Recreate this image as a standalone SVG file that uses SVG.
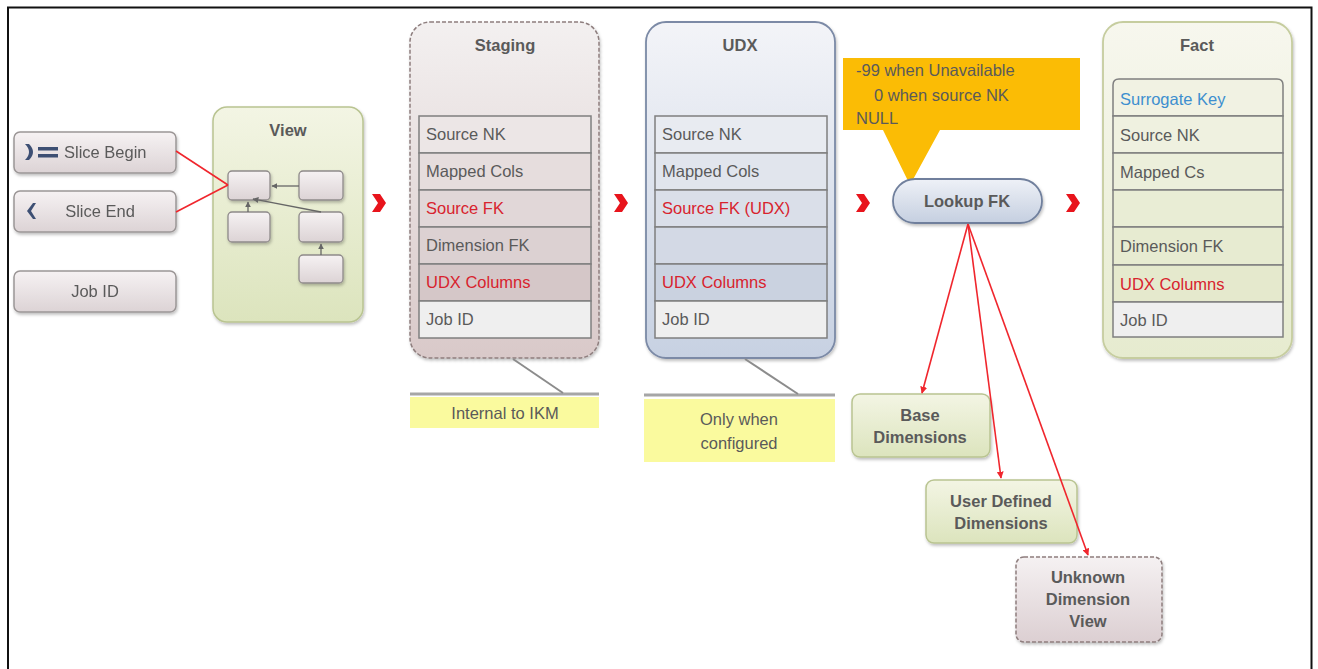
<svg xmlns="http://www.w3.org/2000/svg" width="1318" height="669" viewBox="0 0 1318 669">
<style>
text{font-family:"Liberation Sans",Arial,sans-serif;fill:#5a5a5a}
.t{font-size:16.5px}
.b{font-size:16.5px;font-weight:bold}
.red{fill:#d8232e}
.blue{fill:#3d8fcf}
.btn{fill:url(#gGrey);stroke:#9b9696;stroke-width:1.5}
.small{fill:url(#gGrey);stroke:#8f8a8a;stroke-width:1.3}
.row{stroke:#7f7f7f;stroke-width:1.5}
.chev{fill:#e8141c}
.rl{stroke:#f0262d;stroke-width:1.6;fill:none}
.gl{stroke:#666;stroke-width:1.3;fill:none}
.note{fill:#fafa9e}
.ul{stroke:#a6a6a6;stroke-width:3}
.cl{stroke:#8c8c8c;stroke-width:2}
</style>
<defs>
<linearGradient id="gGrey" x1="0" y1="0" x2="0" y2="1"><stop offset="0" stop-color="#f6f2f3"/><stop offset="1" stop-color="#dcd3d5"/></linearGradient>
<linearGradient id="gGreen" x1="0" y1="0" x2="0" y2="1"><stop offset="0" stop-color="#f3f5e4"/><stop offset="1" stop-color="#dce4bd"/></linearGradient>
<linearGradient id="gStage" x1="0" y1="0" x2="0" y2="1"><stop offset="0" stop-color="#f3f0f0"/><stop offset="1" stop-color="#d9c9c9"/></linearGradient>
<linearGradient id="gUdx" x1="0" y1="0" x2="0" y2="1"><stop offset="0" stop-color="#f3f4f8"/><stop offset="1" stop-color="#c7d1e2"/></linearGradient>
<linearGradient id="gFact" x1="0" y1="0" x2="0" y2="1"><stop offset="0" stop-color="#f7f7ee"/><stop offset="1" stop-color="#e6ebcf"/></linearGradient>
<linearGradient id="gPill" x1="0" y1="0" x2="0" y2="1"><stop offset="0" stop-color="#eef1f7"/><stop offset="1" stop-color="#c5cfe0"/></linearGradient>
<linearGradient id="gUnk" x1="0" y1="0" x2="0" y2="1"><stop offset="0" stop-color="#f5f1f2"/><stop offset="1" stop-color="#dccfd2"/></linearGradient>
<filter id="sh" x="-10%" y="-10%" width="130%" height="130%"><feDropShadow dx="1" dy="2" stdDeviation="1.5" flood-color="#000" flood-opacity="0.25"/></filter>
<marker id="ra" viewBox="0 0 10 10" refX="9" refY="5" markerWidth="7" markerHeight="7" orient="auto" markerUnits="userSpaceOnUse"><path d="M0,0 L10,5 L0,10 Z" fill="#f0262d"/></marker>
<marker id="ga" viewBox="0 0 10 10" refX="9" refY="5" markerWidth="6" markerHeight="6" orient="auto" markerUnits="userSpaceOnUse"><path d="M0,0 L10,5 L0,10 Z" fill="#666"/></marker>
</defs>
<rect width="1318" height="669" fill="#fff"/>
<path d="M8,669 V7.5 H1311.5 V669" fill="none" stroke="#111" stroke-width="2"/>

<g id="slice-begin" filter="url(#sh)">
<rect class="btn" x="14" y="132" width="162" height="41" rx="6"/>
<path d="M25,144 Q33,152 25,160 L29,160 Q37,152 29,144 Z" fill="#3d4f73"/>
<rect x="38" y="147" width="20" height="3.5" fill="#3d4f73"/>
<rect x="38" y="154" width="20" height="3.5" fill="#3d4f73"/>
<text class="t" x="64" y="158">Slice Begin</text>
</g>
<g id="slice-end" filter="url(#sh)">
<rect class="btn" x="14" y="191" width="162" height="41" rx="6"/>
<path d="M33,203 L27,211 L33,219 L36,219 L31,211 L36,203 Z" fill="#3d4f73"/>
<text class="t" x="100" y="217" text-anchor="middle">Slice End</text>
</g>
<g id="job-id" filter="url(#sh)">
<rect class="btn" x="14" y="271" width="162" height="41" rx="6"/>
<text class="t" x="95" y="297" text-anchor="middle">Job ID</text>
</g>

<g id="view">
<rect x="213" y="107" width="150" height="215" rx="14" fill="url(#gGreen)" stroke="#b9c491" stroke-width="1.5" filter="url(#sh)"/>
<text class="b" x="288" y="136" text-anchor="middle">View</text>
<g filter="url(#sh)">
<rect class="small" x="228" y="171" width="42" height="29" rx="4"/>
<rect class="small" x="299" y="171" width="44" height="29" rx="4"/>
<rect class="small" x="228" y="212" width="42" height="30" rx="4"/>
<rect class="small" x="299" y="212" width="44" height="30" rx="4"/>
<rect class="small" x="299" y="255" width="44" height="28" rx="4"/>
</g>
<line class="gl" x1="299" y1="186" x2="272" y2="186" marker-end="url(#ga)"/>
<line class="gl" x1="248" y1="212" x2="248" y2="202" marker-end="url(#ga)"/>
<line class="gl" x1="321" y1="212" x2="253" y2="199" marker-end="url(#ga)"/>
<line class="gl" x1="321" y1="255" x2="321" y2="244" marker-end="url(#ga)"/>
</g>

<path class="chev" d="M372,194 L380,194 L386,203 L380,212 L372,212 L378,203 Z"/>
<path class="chev" d="M614,194 L622,194 L628,203 L622,212 L614,212 L620,203 Z"/>
<path class="chev" d="M856,194 L864,194 L870,203 L864,212 L856,212 L862,203 Z"/>
<path class="chev" d="M1066,194 L1074,194 L1080,203 L1074,212 L1066,212 L1072,203 Z"/>

<g id="staging">
<rect x="410" y="22" width="189" height="336" rx="20" fill="url(#gStage)" stroke="#8e7e7e" stroke-width="1.5" stroke-dasharray="4,2" filter="url(#sh)"/>
<text class="b" x="505" y="51" text-anchor="middle">Staging</text>
<rect class="row" x="419" y="116" width="172" height="37" fill="#ece6e6"/>
<rect class="row" x="419" y="153" width="172" height="37" fill="#e6dddd"/>
<rect class="row" x="419" y="190" width="172" height="37" fill="#e1d7d8"/>
<rect class="row" x="419" y="227" width="172" height="37" fill="#dcd1d2"/>
<rect class="row" x="419" y="264" width="172" height="37" fill="#d5c7c8"/>
<rect class="row" x="419" y="301" width="172" height="37" fill="#efefef"/>
<text class="t" x="426" y="140">Source NK</text>
<text class="t" x="426" y="177">Mapped Cols</text>
<text class="t red" x="426" y="214">Source FK</text>
<text class="t" x="426" y="251">Dimension FK</text>
<text class="t red" x="426" y="288">UDX Columns</text>
<text class="t" x="426" y="325">Job ID</text>
</g>

<g id="note-staging">
<line class="ul" x1="410" y1="394" x2="599" y2="394"/>
<rect class="note" x="410" y="397" width="189" height="31"/>
<text class="t" x="505" y="419" text-anchor="middle">Internal to IKM</text>
</g>

<g id="udx">
<rect x="646" y="22" width="189" height="336" rx="20" fill="url(#gUdx)" stroke="#7b8aa6" stroke-width="1.8" filter="url(#sh)"/>
<text class="b" x="740" y="51" text-anchor="middle">UDX</text>
<rect class="row" x="655" y="116" width="172" height="37" fill="#e8ebf1"/>
<rect class="row" x="655" y="153" width="172" height="37" fill="#e1e5ed"/>
<rect class="row" x="655" y="190" width="172" height="37" fill="#dadfe9"/>
<rect class="row" x="655" y="227" width="172" height="37" fill="#d3d9e5"/>
<rect class="row" x="655" y="264" width="172" height="37" fill="#cad2e0"/>
<rect class="row" x="655" y="301" width="172" height="37" fill="#efefef"/>
<text class="t" x="662" y="140">Source NK</text>
<text class="t" x="662" y="177">Mapped Cols</text>
<text class="t red" x="662" y="214">Source FK (UDX)</text>
<text class="t red" x="662" y="288">UDX Columns</text>
<text class="t" x="662" y="325">Job ID</text>
</g>

<g id="note-udx">
<line class="ul" x1="644" y1="395" x2="835" y2="395"/>
<rect class="note" x="644" y="399" width="191" height="63"/>
<text class="t" x="739" y="425" text-anchor="middle">Only when</text>
<text class="t" x="739" y="449" text-anchor="middle">configured</text>
</g>

<g id="callout">
<path d="M843,58 H1080 V130 H940 L910,185 L883,130 H843 Z" fill="#fbbc05"/>
<text class="t" x="856" y="76">-99 when Unavailable</text>
<text class="t" x="874" y="101">0 when source NK</text>
<text class="t" x="856" y="124">NULL</text>
</g>

<g id="lookup-fk">
<rect x="893" y="179" width="149" height="44" rx="22" fill="url(#gPill)" stroke="#6f7f9c" stroke-width="1.8" filter="url(#sh)"/>
<text class="b" x="967" y="207" text-anchor="middle">Lookup FK</text>
</g>

<g id="fact">
<rect x="1103" y="22" width="189" height="336" rx="20" fill="url(#gFact)" stroke="#c6cd9f" stroke-width="1.8" filter="url(#sh)"/>
<text class="b" x="1197" y="51" text-anchor="middle">Fact</text>
<path class="row" d="M1113,116 V85 Q1113,79 1119,79 H1277 Q1283,79 1283,85 V116 Z" fill="#f1f2e3"/>
<rect class="row" x="1113" y="116" width="170" height="37" fill="#eff1e0"/>
<rect class="row" x="1113" y="153" width="170" height="37" fill="#ecefdb"/>
<rect class="row" x="1113" y="190" width="170" height="37" fill="#e9edd5"/>
<rect class="row" x="1113" y="227" width="170" height="38" fill="#e7ebd1"/>
<rect class="row" x="1113" y="265" width="170" height="37" fill="#e5e9cd"/>
<rect class="row" x="1113" y="302" width="170" height="35" fill="#efefef"/>
<text class="t blue" x="1120" y="105">Surrogate Key</text>
<text class="t" x="1120" y="141">Source NK</text>
<text class="t" x="1120" y="178">Mapped Cs</text>
<text class="t" x="1120" y="252">Dimension FK</text>
<text class="t red" x="1120" y="290">UDX Columns</text>
<text class="t" x="1120" y="326">Job ID</text>
</g>

<g id="base-dimensions">
<rect x="852" y="394" width="138" height="63" rx="8" fill="url(#gGreen)" stroke="#b9c491" stroke-width="1.5" filter="url(#sh)"/>
<text class="b" x="920" y="421" text-anchor="middle">Base</text>
<text class="b" x="920" y="443" text-anchor="middle">Dimensions</text>
</g>
<g id="user-defined-dimensions">
<rect x="926" y="480" width="151" height="63" rx="8" fill="url(#gGreen)" stroke="#b9c491" stroke-width="1.5" filter="url(#sh)"/>
<text class="b" x="1001" y="507" text-anchor="middle">User Defined</text>
<text class="b" x="1001" y="529" text-anchor="middle">Dimensions</text>
</g>
<g id="unknown-dimension-view">
<rect x="1016" y="557" width="146" height="85" rx="8" fill="url(#gUnk)" stroke="#8e7e7e" stroke-width="1.5" stroke-dasharray="4,2" filter="url(#sh)"/>
<text class="b" x="1088" y="583" text-anchor="middle">Unknown</text>
<text class="b" x="1088" y="605" text-anchor="middle">Dimension</text>
<text class="b" x="1088" y="627" text-anchor="middle">View</text>
</g>

<g id="connectors">
<line class="rl" x1="176" y1="151" x2="228" y2="185"/>
<line class="rl" x1="176" y1="212" x2="228" y2="185"/>
<line class="rl" x1="968" y1="224" x2="922" y2="393" marker-end="url(#ra)"/>
<line class="rl" x1="968" y1="224" x2="1001" y2="478" marker-end="url(#ra)"/>
<line class="rl" x1="968" y1="224" x2="1088" y2="555" marker-end="url(#ra)"/>
<line class="cl" x1="513" y1="359" x2="563" y2="393"/>
<line class="cl" x1="745" y1="359" x2="798" y2="394"/>
</g>
</svg>
